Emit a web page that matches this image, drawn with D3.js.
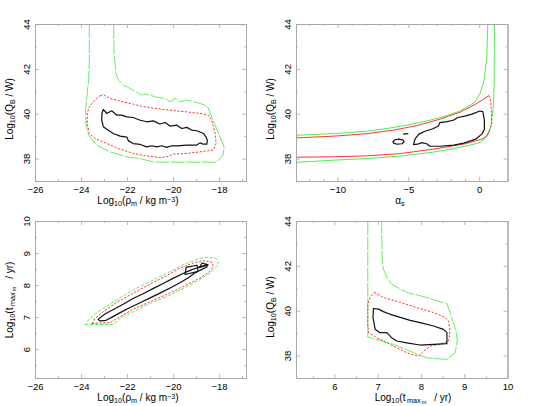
<!DOCTYPE html>
<html><head><meta charset="utf-8">
<script src="https://cdn.jsdelivr.net/npm/d3@7"></script>
<style>body{margin:0;background:#fff}svg{display:block}</style>
</head><body>
<svg id="c" width="534" height="406"></svg>
<script>
// ---------------- DATA (data units) ----------------
// Panel 1: x = log10(rho_m), y = log10(Q_B)
const p1XDomain = [-26, -16.83], p1YDomain = [37, 44];
const p1XMajor = [-26, -24, -22, -20, -18], p1XMinor = [-25, -23, -21, -19, -17];
const p1YMajor = [38, 40, 42, 44], p1YMinor = [37, 39, 41, 43];
const p1Black = [[-23.03,40.19],[-22.88,40.01],[-22.67,40.13],[-22.45,39.94],[-22.23,39.94],[-22.01,39.86],[-21.73,39.83],[-21.43,39.71],[-21.14,39.64],[-20.86,39.68],[-20.57,39.54],[-20.35,39.61],[-20.13,39.45],[-19.84,39.49],[-19.62,39.34],[-19.40,39.39],[-19.19,39.27],[-18.97,39.24],[-18.68,39.12],[-18.57,38.97],[-18.51,38.82],[-18.53,38.64],[-18.68,38.64],[-18.83,38.70],[-18.97,38.60],[-19.40,38.60],[-19.84,38.57],[-20.06,38.57],[-20.27,38.50],[-20.49,38.57],[-20.71,38.52],[-20.93,38.57],[-21.14,38.52],[-21.43,38.63],[-21.73,38.67],[-21.94,38.79],[-22.01,38.96],[-22.30,39.00],[-22.60,39.12],[-22.88,39.31],[-23.03,39.42],[-23.10,39.71],[-23.09,40.01]];
const p1Red = [[-23.17,40.80],[-23.03,40.85],[-22.74,40.68],[-22.45,40.61],[-22.16,40.52],[-21.73,40.43],[-21.43,40.34],[-21.00,40.27],[-20.57,40.21],[-19.99,40.14],[-19.40,40.08],[-18.83,40.01],[-18.47,39.94],[-18.32,39.71],[-18.17,39.12],[-18.13,38.67],[-18.25,38.38],[-18.83,38.30],[-19.40,38.23],[-19.99,38.20],[-20.27,38.08],[-20.57,38.05],[-21.14,38.11],[-21.73,38.23],[-22.30,38.42],[-22.88,38.67],[-23.39,38.90],[-23.64,39.12],[-23.73,39.57],[-23.73,40.01],[-23.64,40.31],[-23.39,40.61]];
const p1Green = [[-23.64,44],[-23.64,42.39],[-23.67,41.50],[-23.74,40.83],[-23.80,40.16],[-23.78,39.49],[-23.67,39.04],[-23.32,38.60],[-22.74,38.30],[-22.01,38.08],[-21.43,38.00],[-20.87,37.85],[-20.42,37.84],[-18.13,37.84],[-17.83,38.15],[-17.78,38.51],[-18.17,39.49],[-18.51,40.34],[-18.83,40.46],[-19.12,40.53],[-19.40,40.61],[-19.70,40.53],[-19.91,40.68],[-20.13,40.53],[-20.35,40.68],[-20.57,40.71],[-20.78,40.75],[-21.00,40.83],[-21.22,40.88],[-21.36,40.83],[-21.51,40.91],[-21.73,41.05],[-21.94,41.17],[-22.16,41.28],[-22.38,41.50],[-22.48,41.80],[-22.52,42.25],[-22.57,42.84],[-22.58,44]];

// Panel 2: x = alpha_s, y = log10(Q_B)
const p2XDomain = [-12.92, 2.0], p2YDomain = [37, 44];
const p2XMajor = [-10, -5, 0], p2XMinor = [-12,-11,-9,-8,-7,-6,-4,-3,-2,-1,1,2];
const p2YMajor = [38, 40, 42, 44], p2YMinor = [37, 39, 41, 43];
const p2Black = [[-4.63,38.62],[-4.53,38.87],[-4.25,39.09],[-3.82,39.22],[-3.26,39.33],[-2.87,39.45],[-2.77,39.60],[-2.27,39.65],[-1.82,39.71],[-1.50,39.83],[-1.01,39.89],[-0.51,39.98],[0.05,40.12],[0.26,40.09],[0.37,39.71],[0.37,39.31],[0.19,39.09],[-0.23,38.87],[-1.08,38.69],[-1.80,38.60],[-2.77,38.55],[-3.47,38.55],[-3.70,38.66],[-4.04,38.71],[-4.35,38.64]];
const p2BlackIsland = [[-6.08,38.75],[-5.94,38.84],[-5.65,38.87],[-5.37,38.82],[-5.30,38.75],[-5.44,38.66],[-5.80,38.64],[-6.04,38.69]];
const p2BlackDash = [[-5.36,39.09],[-5.00,39.11]];
const p2RedUpper = [[-12.92,38.92],[-10.25,39.00],[-7.91,39.11],[-6.03,39.27],[-4.39,39.47],[-2.75,39.76],[-1.34,40.07],[-0.39,40.38],[0.31,40.65],[0.68,40.81]];
const p2RedRight = [[0.68,40.81],[0.80,40.61],[0.86,40.16],[0.89,39.58],[0.75,39.27]];
const p2RedLower = [[0.75,39.27],[0.54,39.02],[0.28,38.89],[-0.89,38.67],[-3.24,38.42],[-5.58,38.22],[-7.91,38.12],[-10.25,38.08],[-12.92,38.06]];
const p2GreenUpper = [[-12.92,39.04],[-10.25,39.11],[-7.91,39.22],[-6.50,39.34],[-5.09,39.49],[-3.68,39.68],[-2.51,39.87],[-1.57,40.07],[-0.87,40.29],[-0.28,40.53],[0.07,40.91],[0.35,41.50],[0.54,42.54],[0.61,44]];
const p2GreenLower = [[-12.92,37.83],[-10.25,37.93],[-7.91,38.00],[-5.56,38.11],[-3.21,38.29],[-1.80,38.44],[-0.63,38.60],[0.07,38.72],[0.54,38.97],[0.82,39.42],[1.00,40.25],[1.06,41.35],[1.08,44]];

// Panel 3: x = log10(rho_m), y = log10(t_max / yr)
const p3XDomain = [-26, -16.83], p3YDomain = [5.1, 10];
const p3XMajor = [-26, -24, -22, -20, -18], p3XMinor = [-25, -23, -21, -19, -17];
const p3YMajor = [6, 7, 8, 9, 10], p3YMinor = [5.5, 6.5, 7.5, 8.5, 9.5];
const p3Black = [[-23.26,6.93],[-22.96,7.10],[-22.61,7.23],[-22.17,7.40],[-21.74,7.58],[-21.30,7.73],[-20.87,7.89],[-20.43,8.05],[-20.00,8.21],[-19.57,8.36],[-19.26,8.46],[-18.96,8.54],[-18.70,8.60],[-18.53,8.65],[-18.52,8.57],[-18.83,8.46],[-19.09,8.36],[-19.35,8.22],[-19.70,8.07],[-20.13,7.91],[-20.57,7.75],[-21.00,7.60],[-21.43,7.45],[-21.87,7.30],[-22.30,7.14],[-22.65,7.00],[-22.91,6.90],[-23.17,6.88]];
const p3BlackBox = [[-19.48,8.33],[-19.43,8.55],[-18.96,8.62],[-18.91,8.43]];
const p3BlackTri = [[-18.87,8.54],[-18.74,8.69],[-18.48,8.63]];
const p3Red = [[-23.53,6.80],[-22.74,6.83],[-22.30,7.01],[-21.73,7.25],[-21.00,7.48],[-20.27,7.71],[-19.55,7.96],[-18.83,8.22],[-18.39,8.43],[-18.25,8.58],[-18.32,8.72],[-18.68,8.76],[-19.12,8.69],[-19.70,8.53],[-20.27,8.30],[-21.00,8.03],[-21.73,7.75],[-22.45,7.46],[-23.03,7.17],[-23.39,6.96]];
const p3Green = [[-23.83,6.77],[-22.60,6.77],[-22.30,6.96],[-21.73,7.17],[-21.00,7.43],[-20.27,7.64],[-19.55,7.90],[-18.83,8.17],[-18.39,8.37],[-18.10,8.58],[-18.03,8.74],[-18.17,8.85],[-18.61,8.87],[-18.97,8.80],[-19.55,8.64],[-20.27,8.37],[-21.00,8.11],[-21.73,7.85],[-22.45,7.54],[-23.17,7.22],[-23.61,6.96]];

// Panel 4: x = log10(t_max / yr), y = log10(Q_B)
const p4XDomain = [5.11, 10], p4YDomain = [37, 44];
const p4XMajor = [6, 7, 8, 9, 10], p4XMinor = [5.5, 6.5, 7.5, 8.5, 9.5];
const p4YMajor = [38, 40, 42, 44], p4YMinor = [37, 39, 41, 43];
const p4Black = [[6.90,40.10],[6.89,39.70],[6.94,39.17],[7.05,39.02],[7.21,39.02],[7.32,38.80],[7.44,38.65],[7.67,38.57],[7.98,38.47],[8.29,38.50],[8.60,38.53],[8.60,39.02],[8.52,39.17],[8.29,39.32],[7.98,39.47],[7.75,39.57],[7.52,39.70],[7.29,39.84],[7.13,39.96],[7.02,40.07]];
const p4Red = [[6.92,40.82],[7.13,40.59],[7.52,40.37],[7.90,40.14],[8.29,39.92],[8.56,39.70],[8.64,39.54],[8.67,39.09],[8.64,38.65],[8.44,38.50],[8.21,38.42],[8.06,38.20],[7.94,37.97],[7.67,38.13],[7.36,38.42],[6.98,38.80],[6.79,39.02],[6.77,39.39],[6.77,40.29],[6.82,40.59]];
const p4Green = [[6.77,44],[6.77,38.83],[7.36,38.50],[7.83,38.13],[8.13,37.90],[8.60,37.83],[8.79,38.13],[8.84,38.65],[8.81,39.09],[8.71,39.70],[8.60,40.32],[8.37,40.44],[8.13,40.59],[7.90,40.71],[7.75,40.77],[7.52,40.96],[7.32,41.19],[7.21,41.49],[7.13,41.86],[7.10,42.39],[7.09,44]];

// Axis titles: [text, level, extra gap]  level 0 normal, -1 sub, -2 sub-sub, 1 sup
const titleRho = [["Log",0],["10",-1],["(ρ",0],["m",-1],[" / kg m",0],["−3",1],[")",0]];
const titleQB  = [["Log",0],["10",-1],["(Q",0],["B",-1],[" / W)",0]];
const titleAlpha = [["α",0],["s",-1]];
const titleT   = [["Log",0],["10",-1],["(t",0],["max",-1,1.5],["m",-2,1],[" / yr)",0,5]];

// ---------------- DRAWING ----------------
const FONT = "'Liberation Sans', Arial, Helvetica, sans-serif";
const svg = d3.select("#c").attr("font-family", FONT);
const FRAME = "#a8a8a8";

const styles = {
  black: {stroke:"#111", width:1.2, dash:null},
  red:   {stroke:"#ff1e1e", width:0.9, dash:"2.2,1.6"},
  redSolid: {stroke:"#ff1e1e", width:0.9, dash:null},
  green: {stroke:"#3ee83e", width:0.8, dash:"14,1.5"},
  greenShort: {stroke:"#3ee83e", width:0.8, dash:"3.5,1.5"},
  greenSolid: {stroke:"#3ee83e", width:0.9, dash:null}
};

const panels = [
  {box:{x0:35,x1:246,y0:24,y1:181}, xd:p1XDomain, yd:p1YDomain, xM:p1XMajor, xm:p1XMinor, yM:p1YMajor, ym:p1YMinor,
   xt:titleRho, xtc:138, yt:titleQB, ytc:109, ytx:13,
   series:[[p1Green,"green",false],[p1Red,"red",true],[p1Black,"black",true]]},
  {box:{x0:296,x1:507.5,y0:24,y1:181}, xd:p2XDomain, yd:p2YDomain, xM:p2XMajor, xm:p2XMinor, yM:p2YMajor, ym:p2YMinor,
   xt:titleAlpha, xtc:400, yt:titleQB, ytc:109, ytx:274,
   series:[[p2GreenUpper,"greenSolid",false],[p2GreenLower,"greenSolid",false],[p2RedUpper,"redSolid",false],[p2RedRight,"red",false],[p2RedLower,"redSolid",false],[p2Black,"black",true],[p2BlackIsland,"black",true],[p2BlackDash,"black",false]]},
  {box:{x0:35,x1:246,y0:221,y1:378}, xd:p3XDomain, yd:p3YDomain, xM:p3XMajor, xm:p3XMinor, yM:p3YMajor, ym:p3YMinor,
   xt:titleRho, xtc:138, yt:titleT, ytc:300, ytx:13,
   series:[[p3Green,"greenShort",true],[p3Red,"red",true],[p3Black,"black",true],[p3BlackBox,"black",true],[p3BlackTri,"black",true]]},
  {box:{x0:296,x1:507.5,y0:221,y1:378}, xd:p4XDomain, yd:p4YDomain, xM:p4XMajor, xm:p4XMinor, yM:p4YMajor, ym:p4YMinor,
   xt:titleT, xtc:413, yt:titleQB, ytc:307, ytx:274,
   series:[[p4Green,"green",false],[p4Red,"red",true],[p4Black,"black",true]]}
];

const fmt = d => d3.format("d")(d).replace("-", "−");

function richText(t, parts, size) {
  let cur = 0;
  parts.forEach(([s, lvl, gap]) => {
    const off = lvl === 0 ? 0 : lvl === 1 ? -0.25*size : lvl === -1 ? 0.22*size : 0.34*size;
    const fs = lvl === 0 ? size : lvl === -2 ? size*0.58 : size*0.72;
    const ts = t.append("tspan").attr("dy", (off - cur).toFixed(2)).attr("font-size", fs).text(s);
    if (gap) ts.attr("dx", gap);
    cur = off;
  });
}

panels.forEach(p => {
  const b = p.box, w = b.x1 - b.x0, h = b.y1 - b.y0;
  const x = d3.scaleLinear().domain(p.xd).range([0, w]);
  const y = d3.scaleLinear().domain(p.yd).range([h, 0]);
  const g = svg.append("g").attr("transform", `translate(${b.x0},${b.y0})`);

  p.series.forEach(([pts, sty, closed]) => {
    const s = styles[sty];
    const line = d3.line().x(d => x(d[0])).y(d => y(d[1])).curve(closed ? d3.curveLinearClosed : d3.curveLinear);
    g.append("path").attr("d", line(pts)).attr("fill", "none")
      .attr("stroke", s.stroke).attr("stroke-width", s.width)
      .attr("stroke-dasharray", s.dash).attr("stroke-linejoin", "round");
  });

  const styleAxis = a => {
    a.attr("color", FRAME).attr("font-family", FONT).attr("font-size", 9.5);
    a.selectAll("path.domain").attr("stroke-width", 1);
    a.selectAll("line").attr("stroke-width", 0.8);
    a.selectAll("text").attr("fill", "#000");
  };
  g.append("g").attr("transform", `translate(0,${h})`)
    .call(d3.axisBottom(x).tickValues(p.xm).tickSize(-2).tickSizeOuter(0).tickFormat("")).call(styleAxis);
  g.append("g").attr("transform", `translate(0,${h})`)
    .call(d3.axisBottom(x).tickValues(p.xM).tickSize(-4).tickSizeOuter(0).tickPadding(5.2).tickFormat(fmt)).call(styleAxis);
  g.append("g").call(d3.axisTop(x).tickValues(p.xm).tickSize(-2).tickSizeOuter(0).tickFormat("")).call(styleAxis);
  g.append("g").call(d3.axisTop(x).tickValues(p.xM).tickSize(-4).tickSizeOuter(0).tickFormat("")).call(styleAxis);
  g.append("g").call(d3.axisLeft(y).tickValues(p.ym).tickSize(-2).tickSizeOuter(0).tickFormat("")).call(styleAxis);
  const la = g.append("g").call(d3.axisLeft(y).tickValues(p.yM).tickSize(-4).tickSizeOuter(0).tickFormat(fmt)).call(styleAxis);
  la.selectAll("text").attr("transform", "rotate(-90)").attr("x", 0).attr("y", -5).attr("dy", 0)
    .attr("text-anchor", "middle");
  g.append("g").attr("transform", `translate(${w},0)`)
    .call(d3.axisRight(y).tickValues(p.ym).tickSize(-2).tickSizeOuter(0).tickFormat("")).call(styleAxis);
  g.append("g").attr("transform", `translate(${w},0)`)
    .call(d3.axisRight(y).tickValues(p.yM).tickSize(-4).tickSizeOuter(0).tickFormat("")).call(styleAxis);

  const xt = svg.append("text").attr("x", p.xtc).attr("y", b.y1 + 23)
    .attr("text-anchor", "middle").attr("font-size", 10).attr("fill", "#000");
  richText(xt, p.xt, 10);
  const yt = svg.append("text").attr("transform", `translate(${p.ytx},${p.ytc}) rotate(-90)`)
    .attr("text-anchor", "middle").attr("font-size", 10).attr("fill", "#000");
  richText(yt, p.yt, 10);
});
</script>
</body></html>
